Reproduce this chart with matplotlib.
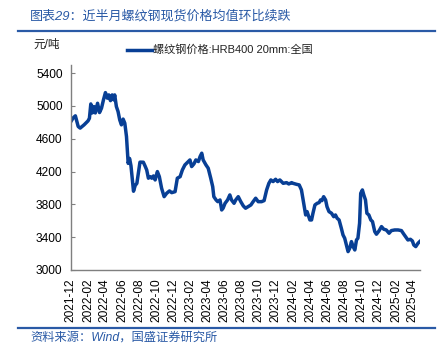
import numpy as np
import matplotlib
matplotlib.use("Agg")
import matplotlib.pyplot as plt
from matplotlib.lines import Line2D

plt.rcParams['font.family'] = ['Liberation Sans', 'Noto Sans CJK SC', 'DejaVu Sans']

dates = [
    "2021-12-01", "2021-12-09", "2021-12-17", "2021-12-27", "2022-01-03", "2022-01-17",
    "2022-01-31", "2022-02-05", "2022-02-10", "2022-02-15", "2022-02-21", "2022-02-26",
    "2022-03-06", "2022-03-13", "2022-03-20", "2022-03-27", "2022-04-03", "2022-04-10",
    "2022-04-15", "2022-04-21", "2022-04-27", "2022-05-03", "2022-05-06", "2022-05-12",
    "2022-05-18", "2022-05-24", "2022-05-30", "2022-06-05", "2022-06-11", "2022-06-17",
    "2022-06-23", "2022-06-28", "2022-07-03", "2022-07-08", "2022-07-12", "2022-07-18",
    "2022-07-24", "2022-07-30", "2022-08-04", "2022-08-16", "2022-08-22", "2022-08-28",
    "2022-09-03", "2022-09-09", "2022-09-15", "2022-09-21", "2022-09-27", "2022-10-05",
    "2022-10-12", "2022-10-20", "2022-10-29", "2022-11-07", "2022-11-17", "2022-11-25",
    "2022-12-07", "2022-12-15", "2022-12-25", "2023-01-02", "2023-01-11", "2023-01-23",
    "2023-01-29", "2023-02-04", "2023-02-12", "2023-02-19", "2023-02-28", "2023-03-06",
    "2023-03-12", "2023-03-17", "2023-03-27", "2023-04-04", "2023-04-13", "2023-04-20",
    "2023-04-24", "2023-05-02", "2023-05-08", "2023-05-16", "2023-05-22", "2023-05-27",
    "2023-06-03", "2023-06-12", "2023-06-20", "2023-06-26", "2023-07-05", "2023-07-11",
    "2023-07-20", "2023-07-29", "2023-08-07", "2023-08-15", "2023-08-24", "2023-09-03",
    "2023-09-11", "2023-09-20", "2023-09-29", "2023-10-11", "2023-10-20", "2023-10-29",
    "2023-11-06", "2023-11-13", "2023-11-21", "2023-11-30", "2023-12-07", "2023-12-15",
    "2023-12-27", "2024-01-08", "2024-01-16", "2024-01-26", "2024-01-31", "2024-02-12",
    "2024-02-22", "2024-03-01", "2024-03-07", "2024-03-13", "2024-03-16", "2024-03-21",
    "2024-03-25", "2024-03-31", "2024-04-06", "2024-04-11", "2024-04-18", "2024-04-26",
    "2024-05-03", "2024-05-08", "2024-05-13", "2024-05-19", "2024-05-26", "2024-05-31",
    "2024-06-07", "2024-06-16", "2024-06-24", "2024-06-30", "2024-07-06", "2024-07-13",
    "2024-07-21", "2024-07-27", "2024-08-02", "2024-08-08", "2024-08-14", "2024-08-20",
    "2024-08-26", "2024-09-01", "2024-09-07", "2024-09-13", "2024-09-18", "2024-09-24",
    "2024-09-28", "2024-10-04", "2024-10-09", "2024-10-15", "2024-10-20", "2024-10-27",
    "2024-11-03", "2024-11-09", "2024-11-17", "2024-11-23", "2024-12-02", "2024-12-11",
    "2024-12-19", "2024-12-28", "2025-01-07", "2025-01-15", "2025-01-27", "2025-02-08",
    "2025-02-20", "2025-02-28", "2025-03-07", "2025-03-15", "2025-03-24", "2025-03-31",
    "2025-04-05", "2025-04-12", "2025-04-20", "2025-04-26",
]
price = [
    4810, 4854, 4880, 4750, 4730, 4770,
    4818, 4850, 5025, 4915, 4993, 4915,
    5033, 4920, 4973, 5074, 5163, 5095,
    5135, 5065, 5135, 5074, 5135, 4993,
    4932, 4830, 4770, 4840, 4790, 4627,
    4300, 4360, 4270, 4100, 3960, 4030,
    4057, 4200, 4315, 4314, 4269, 4220,
    4119, 4138, 4119, 4147, 4098, 4200,
    4138, 3997, 3894, 3935, 3964, 3943,
    3955, 4119, 4138, 4220, 4281, 4322,
    4342, 4261, 4293, 4342, 4322, 4383,
    4424, 4342, 4281, 4241, 4119, 4016,
    3894, 3854, 3833, 3854, 3732, 3753,
    3813, 3854, 3915, 3854, 3813, 3854,
    3894, 3833, 3781, 3753, 3772, 3793,
    3833, 3875, 3833, 3833, 3846, 3976,
    4057, 4098, 4078, 4106, 4078, 4098,
    4057, 4065, 4049, 4065, 4057, 4045,
    4037, 3976, 3854, 3732, 3671, 3712,
    3671, 3610, 3610, 3692, 3793, 3813,
    3822, 3854, 3846, 3894, 3854, 3772,
    3712, 3692, 3650, 3671, 3631, 3610,
    3509, 3427, 3387, 3305, 3224, 3265,
    3346, 3285, 3244, 3366, 3387, 3570,
    3935, 3976, 3915, 3854, 3692, 3671,
    3610, 3590, 3468, 3436, 3476, 3529,
    3497, 3488, 3448, 3480, 3488, 3488,
    3480, 3439, 3406, 3366, 3374, 3354,
    3305, 3285, 3326, 3346,
]
tick_labels = ["2021-12", "2022-02", "2022-04", "2022-06", "2022-08", "2022-10",
               "2022-12", "2023-02", "2023-04", "2023-06", "2023-08", "2023-10",
               "2023-12", "2024-02", "2024-04", "2024-06", "2024-08", "2024-10",
               "2024-12", "2025-02", "2025-04"]
yticks = [3000, 3400, 3800, 4200, 4600, 5000, 5400]

title = "图表29：近半月螺纹钢现货价格均值环比续跌"
source = "资料来源：Wind，国盛证券研究所"
series_name = "螺纹钢价格:HRB400 20mm:全国"
unit = "元/吨"

line_color = "#083f95"
accent = "#2a5aa6"

x = np.array(dates, dtype="datetime64[D]")
fig = plt.figure(figsize=(4.43, 3.59), dpi=100)
ax = fig.add_axes([0.160, 0.248, 0.788, 0.571])
ax.plot(x, price, color=line_color, lw=2.5, solid_joinstyle="round")

ax.set_ylim(3000, 5500)
ax.set_yticks(yticks)
ax.set_xlim(np.datetime64("2021-12-01"), np.datetime64("2025-04-27"))
ax.set_xticks(np.array([t + "-01" for t in tick_labels], dtype="datetime64[D]"))
ax.set_xticklabels(tick_labels, rotation=90)
ax.tick_params(axis="y", direction="in", length=3, labelsize=8.6, pad=6, color="#808080")
ax.tick_params(axis="x", length=0, labelsize=8.6, pad=6)
for s in ["top", "right"]:
    ax.spines[s].set_visible(False)
for s in ["left", "bottom"]:
    ax.spines[s].set_color("#7f7f7f")
    ax.spines[s].set_linewidth(1.0)

fig.text(30 / 443, 1 - 16 / 359, title, color=accent, fontsize=9.4,
         style="italic", va="center", ha="left")
fig.add_artist(Line2D([18 / 443, 435 / 443], [1 - 31 / 359, 1 - 31 / 359],
                      color=accent, lw=1.6))
fig.add_artist(Line2D([18 / 443, 435 / 443], [1 - 328 / 359, 1 - 328 / 359],
                      color=accent, lw=1.6))
fig.text(30 / 443, 1 - 338 / 359, source, color=accent, fontsize=8.8,
         style="italic", va="center", ha="left")
fig.text(33 / 443, 1 - 45 / 359, unit, color="#222222", fontsize=8.4,
         va="center", ha="left")
fig.add_artist(Line2D([127 / 443, 152 / 443], [1 - 50 / 359, 1 - 50 / 359],
                      color=line_color, lw=2.5))
fig.text(153 / 443, 1 - 50 / 359, series_name, color="#222222", fontsize=8.0,
         va="center", ha="left")

fig.savefig("out.png", dpi=100)
